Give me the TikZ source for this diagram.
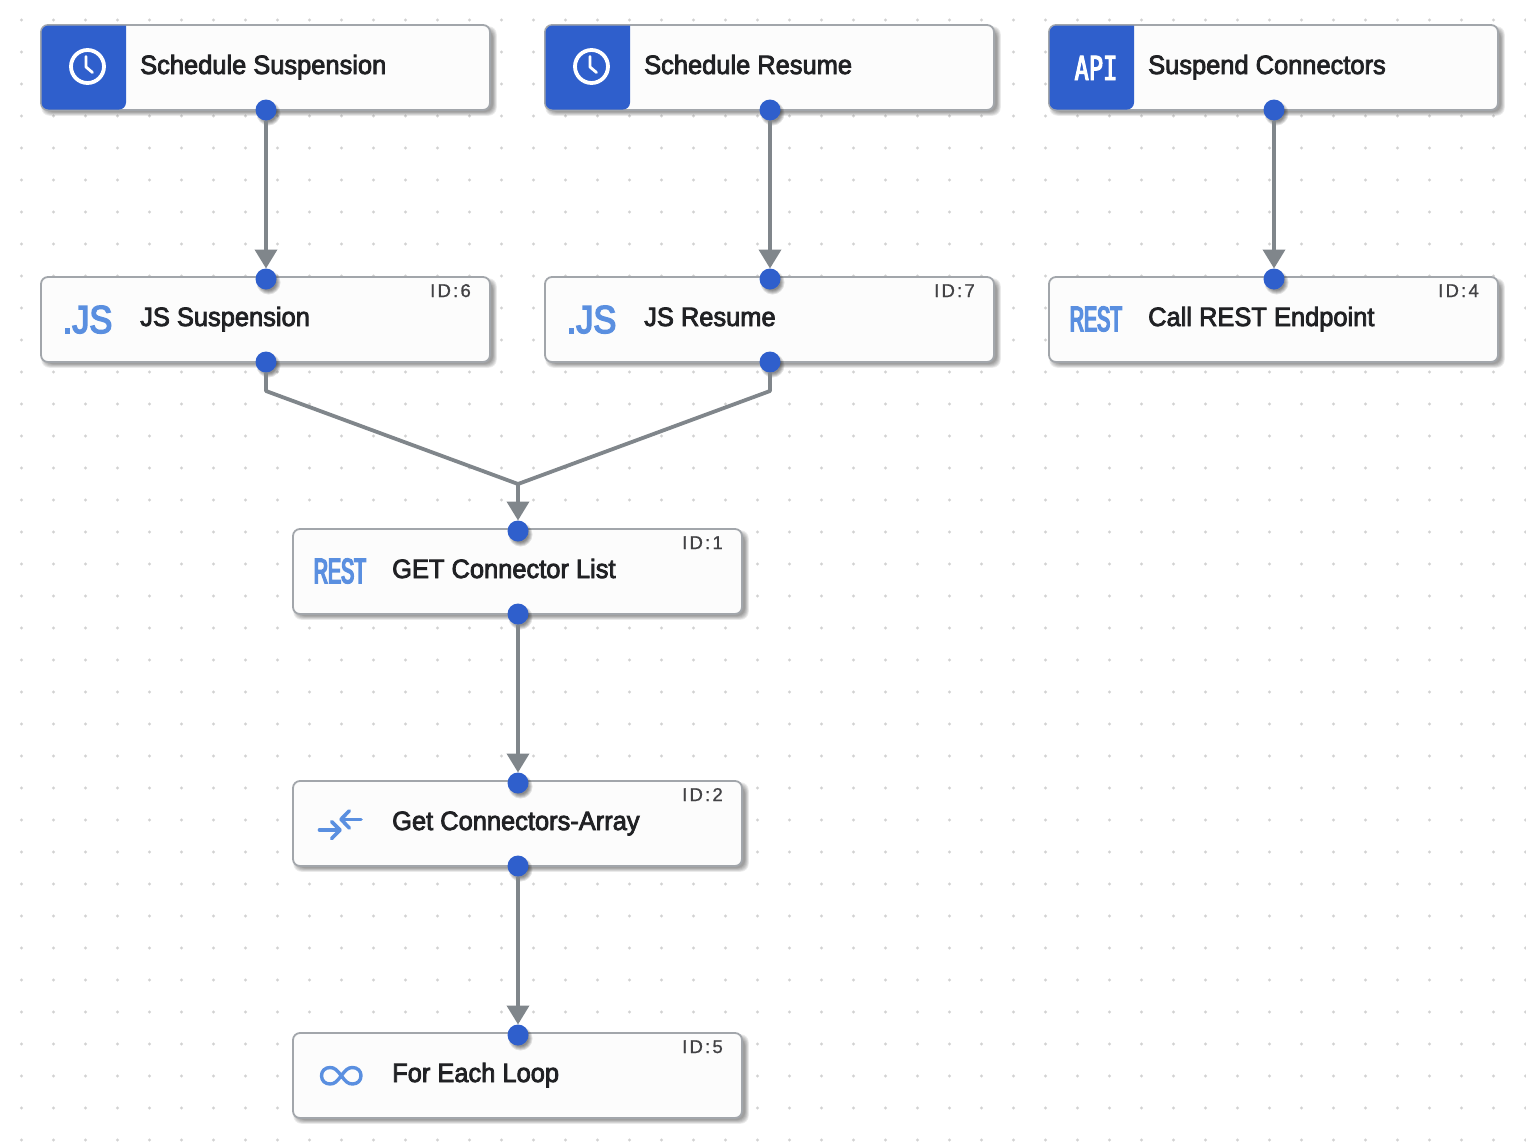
\documentclass[tikz,border=0pt]{standalone}
\usepackage{fontspec}
\usetikzlibrary{arrows.meta}
\setmainfont{Liberation Sans}
\newfontfamily\lblfont[FakeBold=3,FakeStretch=0.96]{Liberation Sans}
\newfontfamily\idfont[FakeBold=1,LetterSpace=12]{Liberation Sans}
\newfontfamily\jsfont[FakeBold=4,FakeStretch=0.88]{Liberation Sans}
\newfontfamily\restfont[FakeBold=4.5,FakeStretch=0.56]{Liberation Sans}
\newfontfamily\apifont[FakeBold=3,FakeStretch=0.72]{DejaVu Sans Mono}
\definecolor{cblue}{HTML}{2F5FCC}
\definecolor{iblue}{HTML}{5A8FE0}
\definecolor{cedge}{HTML}{80868B}
\definecolor{cborder}{HTML}{A2A6AB}
\definecolor{cdot}{HTML}{D2D2D2}
\definecolor{ctext}{HTML}{202124}
\tikzset{
  cardnode/.style={draw=cborder,fill=white!99!black,line width=1.8pt,rounded corners=7pt,anchor=north west,
    minimum width=449pt,minimum height=85pt,inner sep=0pt,outer sep=0pt},
  cardlabel/.style={anchor=base west,inner sep=0pt,text=ctext,font={\lblfont\fontsize{26.5}{30}\selectfont}},
  idlabel/.style={anchor=base east,inner sep=0pt,text=ctext!85!white,font={\idfont\fontsize{18.5}{20}\selectfont}},
  portnode/.style={circle,fill=cblue,minimum size=21pt,inner sep=0pt,outer sep=0pt},
  flow/.style={draw=cedge,line width=3.8pt,line join=round},
  arrowflow/.style={flow,-{Triangle[length=19pt,width=22pt]}},
  jsicon/.style={anchor=base,inner sep=0pt,text=iblue,font={\jsfont\fontsize{39}{40}\selectfont}},
  resticon/.style={anchor=base,inner sep=0pt,text=iblue,font={\restfont\fontsize{35}{36}\selectfont}},
  apiicon/.style={anchor=base,inner sep=0pt,text=white,font={\apifont\fontsize{33}{34}\selectfont}},
  iconline/.style={draw=iblue,line width=3.6pt,line cap=round,line join=round},
}
\newcommand{\cardbody}[5]{% name, x, y, label, id
  \begin{scope}[shift={(#2,#3)}]
    \foreach \r in {0,1.5,3,4.5,6,7.5}{
      \fill[black,opacity=0.075,rounded corners=8pt] (4-\r/2,5-\r/2) rectangle (452+\r/2,87+\r/2);
    }
    \node[cardnode] (#1) at (0,0) {};
    \node[cardlabel] (#1-label) at (99,49) {#4};
    \ifx&#5&\else\node[idlabel] (#1-id) at (430,20) {#5};\fi
  \end{scope}
}
\newcommand{\bluetab}[2]{%
  \fill[cblue,shift={(#1,#2)}] (85,0.5) [rounded corners=7pt] -- (0.5,0.5) -- (0.5,84.5) -- (85,84.5) [sharp corners] -- cycle;
}
\newcommand{\clockicon}[3]{% name, x, y
  \begin{scope}[shift={(#2,#3)}]
    \node[circle,draw=white,line width=3.8pt,minimum size=33pt,inner sep=0pt] (#1) at (46.5,41.5) {};
    \draw[white,line width=2.8pt,line cap=round,line join=round] (45,31.5) -- (45,42) -- (51.5,47.5);
  \end{scope}
}
\newcommand{\portdot}[3]{% name, x, y
  \foreach \r in {0,1,2,3,4}{
    \fill[black,opacity=0.11] (#2+2.5,#3+3.5) circle ({8+\r});
  }
  \node[portnode] (#1) at (#2,#3) {};
}
\begin{document}
\begin{tikzpicture}[x=1pt,y=-1pt]
  \fill[white] (0,0) rectangle (1526,1146);
  \useasboundingbox (0,0) rectangle (1526,1146);
  % dotted canvas
  \foreach \i in {0,...,47}{
    \foreach \j in {0,...,35}{
      \fill[cdot] (21.5+32*\i,20+32*\j) circle (1.7);
    }
  }
  % cards
  \cardbody{sched1}{41}{25}{Schedule Suspension}{}
  \cardbody{sched2}{545}{25}{Schedule Resume}{}
  \cardbody{apicard}{1049}{25}{Suspend Connectors}{}
  \cardbody{js1}{41}{277}{JS Suspension}{ID:6}
  \cardbody{js2}{545}{277}{JS Resume}{ID:7}
  \cardbody{rest4}{1049}{277}{Call REST Endpoint}{ID:4}
  \cardbody{get1}{293}{529}{GET Connector List}{ID:1}
  \cardbody{arr2}{293}{781}{Get Connectors-Array}{ID:2}
  \cardbody{loop5}{293}{1033}{For Each Loop}{ID:5}
  % blue tabs and icons
  \bluetab{41}{25}
  \bluetab{545}{25}
  \bluetab{1049}{25}
  \clockicon{clock1}{41}{25}
  \clockicon{clock2}{545}{25}
  \node[apiicon] (apitxt) at (1096,80) {API};
  \node[jsicon] (jstxt1) at (87.5,333) {.JS};
  \node[jsicon] (jstxt2) at (591.5,333) {.JS};
  \node[resticon] (resttxt4) at (1096,331) {REST};
  \node[resticon] (resttxt1) at (340,583) {REST};
  % convergence icon
  \draw[iconline] (319.5,830) -- (339.5,830);
  \draw[iconline] (331.7,821.7) -- (340,830) -- (331.7,838.5);
  \draw[iconline] (361,819.3) -- (341.5,819.3);
  \draw[iconline] (349.3,810.8) -- (341,819.3) -- (349.3,828);
  % loop icon
  \draw[iconline,line width=3.4pt] (341.3,1075.7)
    .. controls (345.5,1070) and (348,1067.5) .. (352.5,1067.5)
    .. controls (357.5,1067.5) and (361,1071) .. (361,1075.7)
    .. controls (361,1080.5) and (357.5,1084) .. (352.5,1084)
    .. controls (348,1084) and (345.5,1081.5) .. (341.3,1075.7)
    .. controls (337,1070) and (334.5,1067.5) .. (330,1067.5)
    .. controls (325,1067.5) and (321.5,1071) .. (321.5,1075.7)
    .. controls (321.5,1080.5) and (325,1084) .. (330,1084)
    .. controls (334.5,1084) and (337,1081.5) .. (341.3,1075.7);
  % ports
  \portdot{s1b}{266}{110}
  \portdot{s2b}{770}{110}
  \portdot{s3b}{1274}{110}
  \portdot{j1t}{266}{279}
  \portdot{j2t}{770}{279}
  \portdot{r4t}{1274}{279}
  \portdot{j1b}{266}{362}
  \portdot{j2b}{770}{362}
  \portdot{g1t}{518}{531}
  \portdot{g1b}{518}{614}
  \portdot{a2t}{518}{783}
  \portdot{a2b}{518}{866}
  \portdot{l5t}{518}{1035}
  % connectors
  \coordinate (bend1) at (266,391);
  \coordinate (bend2) at (770,391);
  \coordinate (merge) at (518,484);
  \draw[arrowflow] (s1b) -- (j1t);
  \draw[arrowflow] (s2b) -- (j2t);
  \draw[arrowflow] (s3b) -- (r4t);
  \draw[flow] (j1b) -- (bend1) -- (merge);
  \draw[flow] (j2b) -- (bend2) -- (merge);
  \draw[arrowflow] (merge) -- (g1t);
  \draw[arrowflow] (g1b) -- (a2t);
  \draw[arrowflow] (a2b) -- (l5t);
\end{tikzpicture}
\end{document}
